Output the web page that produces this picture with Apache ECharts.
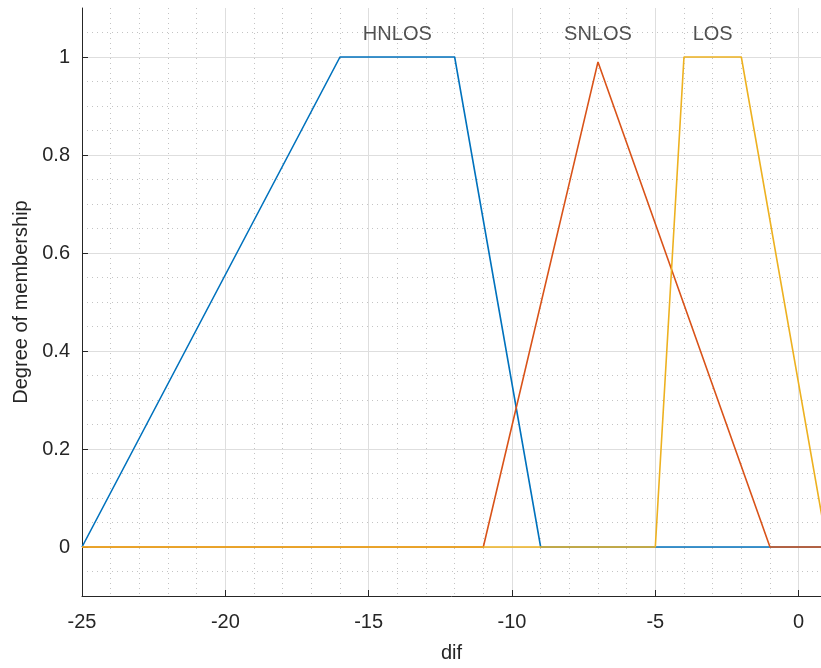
<!DOCTYPE html>
<html>
<head>
<meta charset="utf-8">
<script src="https://cdn.jsdelivr.net/npm/echarts@6/dist/echarts.min.js"></script>
<style>
html,body{margin:0;padding:0;background:#fff;}
#chart{width:821px;height:668px;}
</style>
</head>
<body>
<div id="chart"></div>
<script>
// membership functions (x, degree)
const hnlos = [[-25, 0], [-16, 1], [-12, 1], [-9, 0], [1, 0]];
const snlos = [[-25, 0], [-11, 0], [-7, 0.99], [-1, 0], [1, 0]];
const los = [[-25, 0], [-5, 0], [-4, 1], [-2, 1], [1, 0]];
const mfNames = ['HNLOS', 'SNLOS', 'LOS'];
const labelX = [-14, -7, -3];
const labelY = 1.045;
const xRange = [-25, 0.78];   // visible part of the axis (figure is cropped on the right)
const yRange = [-0.1, 1.1];

const FONT = 'Liberation Sans';
const TXT = '#262626';

const chart = echarts.init(document.getElementById('chart'), null, {renderer: 'canvas'});

const grid = {left: 82, right: 0, top: 8, bottom: 71, containLabel: false};

const option = {
  animation: false,
  backgroundColor: '#ffffff',
  grid: [grid],
  xAxis: [
    {
      type: 'value', min: xRange[0], max: xRange[1], interval: 5,
      name: 'dif', nameLocation: 'middle', nameGap: 47,
      nameTextStyle: {fontFamily: FONT, fontSize: 20, color: TXT},
      axisLine: {show: true, onZero: false, lineStyle: {color: TXT, width: 1}},
      axisTick: {show: true, inside: true, length: 6, lineStyle: {color: TXT}},
      axisLabel: {fontFamily: FONT, fontSize: 20, color: TXT, margin: 16, showMaxLabel: false},
      splitLine: {show: true, showMinLine: false, showMaxLine: false, lineStyle: {color: '#dedede', width: 1, type: 'solid'}},
      z: 3
    },
    {
      type: 'value', min: xRange[0], max: xRange[1], interval: 1,
      axisLine: {show: false}, axisTick: {show: false}, axisLabel: {show: false},
      splitLine: {show: true, showMinLine: false, showMaxLine: false, lineStyle: {color: '#c4c4c4', width: 1, type: [1, 4]}},
      z: 1
    }
  ],
  yAxis: [
    {
      type: 'value', min: yRange[0], max: yRange[1], splitNumber: 5,
      name: 'Degree of membership', nameLocation: 'middle', nameGap: 51,
      nameTextStyle: {fontFamily: FONT, fontSize: 20, color: TXT},
      axisLine: {show: true, onZero: false, lineStyle: {color: TXT, width: 1}},
      axisTick: {show: true, inside: true, length: 6, lineStyle: {color: TXT}},
      axisLabel: {fontFamily: FONT, fontSize: 20, color: TXT, margin: 12, showMinLabel: false, showMaxLabel: false},
      splitLine: {show: true, showMinLine: false, showMaxLine: false, lineStyle: {color: '#dedede', width: 1, type: 'solid'}},
      z: 3
    },
    {
      type: 'value', min: yRange[0], max: yRange[1], interval: 0.05,
      axisLine: {show: false}, axisTick: {show: false}, axisLabel: {show: false},
      splitLine: {show: true, showMinLine: false, showMaxLine: false, lineStyle: {color: '#c4c4c4', width: 1, type: [1, 4]}},
      z: 1
    }
  ],
  series: [
    {name: mfNames[0], type: 'line', data: hnlos, showSymbol: false, symbol: 'none', clip: true,
     lineStyle: {color: '#0072BD', width: 1.6}, z: 4},
    {name: mfNames[1], type: 'line', data: snlos, showSymbol: false, symbol: 'none', clip: true,
     lineStyle: {color: '#D95319', width: 1.6}, z: 5},
    {name: mfNames[2], type: 'line', data: los, showSymbol: false, symbol: 'none', clip: true,
     lineStyle: {color: '#EDB120', width: 1.6}, z: 6},
    {
      type: 'scatter', symbolSize: 0, z: 7,
      data: mfNames.map((n, i) => ({value: [labelX[i], labelY], name: n})),
      label: {show: true, position: 'inside', formatter: p => p.name,
              fontFamily: FONT, fontSize: 20, color: TXT},
      silent: true
    }
  ]
};
chart.setOption(option);
</script>
</body>
</html>
